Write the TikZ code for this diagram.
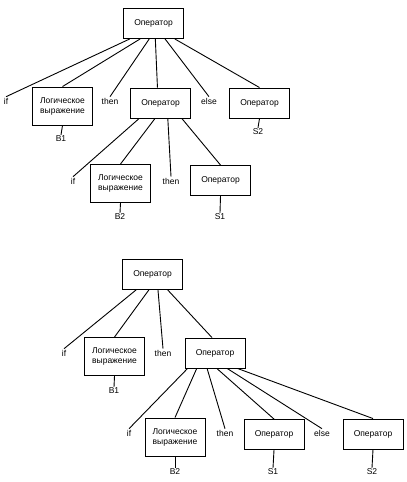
\documentclass[tikz,border=0pt]{standalone}
\usepackage{fontspec}
\setmainfont{Liberation Sans}
\usetikzlibrary{calc}
\tikzset{
  opbox/.style={draw=black, line width=0.9pt, fill=white, minimum width=60pt, minimum height=30pt, inner sep=1pt, align=center, font=\fontsize{8.5}{10}\selectfont},
  exprbox/.style={draw=black, line width=0.9pt, fill=white, minimum width=60pt, minimum height=38pt, inner sep=1pt, align=center, font=\fontsize{8.5}{10}\selectfont},
  word/.style={inner sep=1pt, font=\fontsize{8.5}{10}\selectfont},
  edge/.style={draw=black, line width=0.9pt}
}
\begin{document}
\begin{tikzpicture}[x=1pt,y=-1pt]
  \useasboundingbox (0,0) rectangle (407,482);

  % first tree
  \node[opbox] (top1) at (153.5,23.5) {Оператор};
  \node[word] (if1) at (6,101) {if};
  \node[exprbox] (expr1) at (62.5,106) {Логическое\\выражение};
  \node[word] (then1) at (110,101) {then};
  \node[opbox] (mid1) at (160.5,103) {Оператор};
  \node[word] (else1) at (209,101) {else};
  \node[opbox] (right1) at (259.5,103) {Оператор};
  \node[word] (b1) at (61,139) {B1};
  \node[word] (s2) at (258,132) {S2};

  \node[word] (if2) at (73,181) {if};
  \node[exprbox] (expr2) at (120.5,183.5) {Логическое\\выражение};
  \node[word] (then2) at (171,181) {then};
  \node[opbox] (sone) at (220.5,180.5) {Оператор};
  \node[word] (b2) at (120,217) {B2};
  \node[word] (s1) at (220,217) {S1};

  \draw[edge] ($(top1.south west)!0.11!(top1.south east)$) -- (if1.north);
  \draw[edge] ($(top1.south west)!0.28!(top1.south east)$) -- (expr1.north);
  \draw[edge] ($(top1.south west)!0.43!(top1.south east)$) -- (then1.north);
  \draw[edge] ($(top1.south west)!0.53!(top1.south east)$) -- ($(mid1.north west)!0.45!(mid1.north east)$);
  \draw[edge] ($(top1.south west)!0.69!(top1.south east)$) -- (else1.north);
  \draw[edge] ($(top1.south west)!0.85!(top1.south east)$) -- (right1.north);
  \draw[edge] (expr1.south) -- (b1.north);
  \draw[edge] (right1.south) -- (s2.north);

  \draw[edge] ($(mid1.south west)!0.15!(mid1.south east)$) -- (if2.north);
  \draw[edge] ($(mid1.south west)!0.41!(mid1.south east)$) -- (expr2.north);
  \draw[edge] ($(mid1.south west)!0.62!(mid1.south east)$) -- (then2.north);
  \draw[edge] ($(mid1.south west)!0.85!(mid1.south east)$) -- (sone.north);
  \draw[edge] (expr2.south) -- (b2.north);
  \draw[edge] (sone.south) -- (s1.north);

  % second tree
  \node[opbox] (top2) at (152.5,274.5) {Оператор};
  \node[word] (if3) at (64,353) {if};
  \node[exprbox] (expr3) at (114.5,356.5) {Логическое\\выражение};
  \node[word] (then3) at (163,353) {then};
  \node[opbox] (mid2) at (215,353) {Оператор};
  \node[word] (b3) at (114,391) {B1};

  \node[word] (if4) at (129,433) {if};
  \node[exprbox] (expr4) at (175,437) {Логическое\\выражение};
  \node[word] (then4) at (225,433) {then};
  \node[opbox] (stwo) at (274,434.5) {Оператор};
  \node[word] (else4) at (322,433) {else};
  \node[opbox] (sthree) at (373,434) {Оператор};
  \node[word] (b4) at (175,472) {B2};
  \node[word] (s3) at (273,472) {S1};
  \node[word] (s4) at (372,472) {S2};

  \draw[edge] ($(top2.south west)!0.23!(top2.south east)$) -- (if3.north);
  \draw[edge] ($(top2.south west)!0.44!(top2.south east)$) -- (expr3.north);
  \draw[edge] ($(top2.south west)!0.59!(top2.south east)$) -- (then3.north);
  \draw[edge] ($(top2.south west)!0.75!(top2.south east)$) -- ($(mid2.north west)!0.45!(mid2.north east)$);
  \draw[edge] (expr3.south) -- (b3.north);

  \draw[edge] ($(mid2.south west)!0.05!(mid2.south east)$) -- (if4.north);
  \draw[edge] ($(mid2.south west)!0.20!(mid2.south east)$) -- (expr4.north);
  \draw[edge] ($(mid2.south west)!0.37!(mid2.south east)$) -- (then4.north);
  \draw[edge] ($(mid2.south west)!0.53!(mid2.south east)$) -- (stwo.north);
  \draw[edge] ($(mid2.south west)!0.70!(mid2.south east)$) -- (else4.north);
  \draw[edge] ($(mid2.south west)!0.87!(mid2.south east)$) -- (sthree.north);
  \draw[edge] (expr4.south) -- (b4.north);
  \draw[edge] (stwo.south) -- (s3.north);
  \draw[edge] (sthree.south) -- (s4.north);
\end{tikzpicture}
\end{document}
